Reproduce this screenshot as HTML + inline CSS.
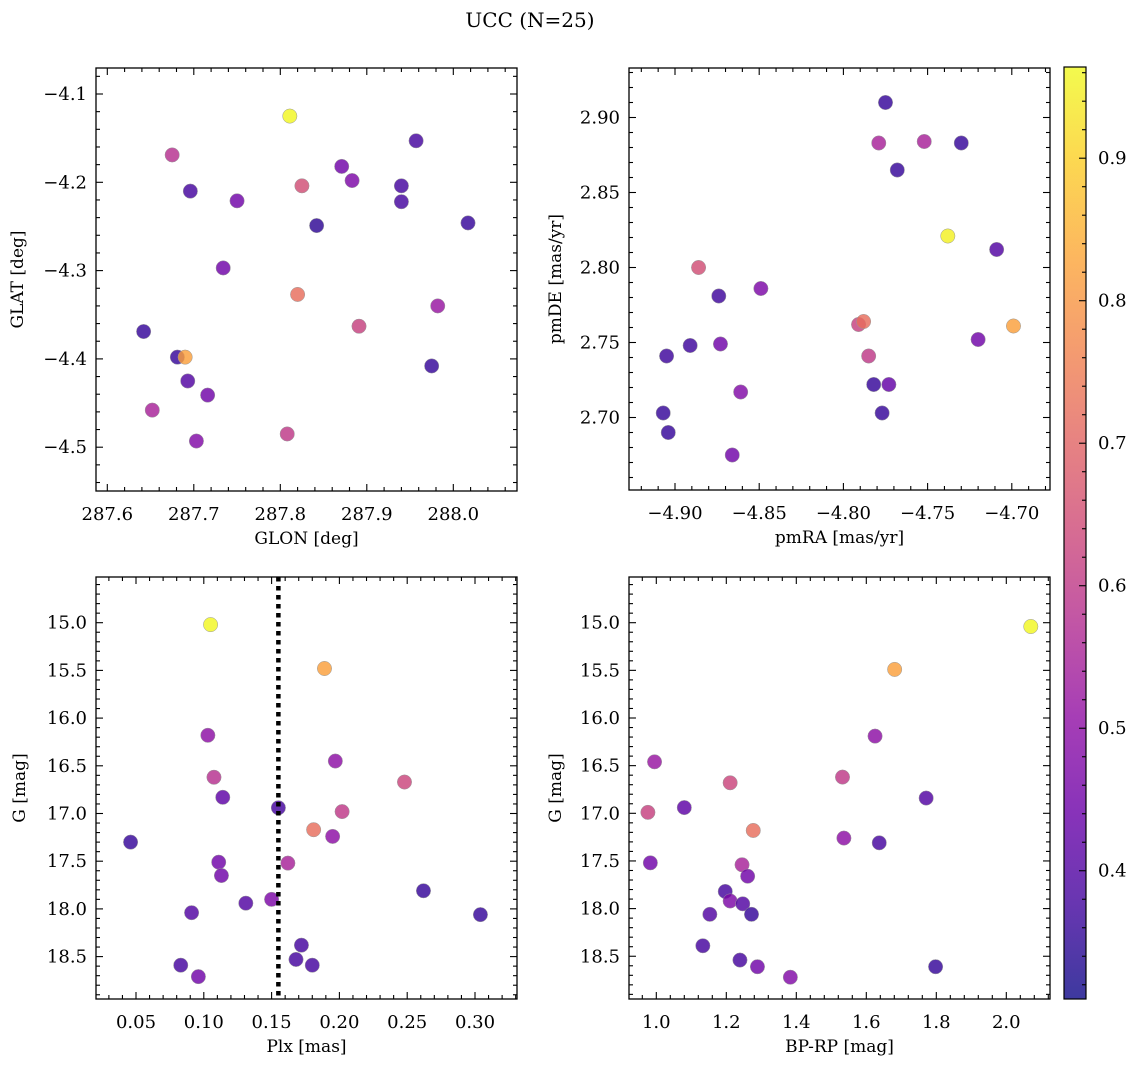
<!DOCTYPE html>
<html><head><meta charset="utf-8"><title>UCC (N=25)</title>
<style>
html,body{margin:0;padding:0;background:#fff;}
svg{display:block;font-family:"DejaVu Serif","Liberation Serif",serif;}
</style></head>
<body>
<svg id="fig" width="1136" height="1067" viewBox="0 0 1136 1067" xmlns="http://www.w3.org/2000/svg">
<defs>
<linearGradient id="plasma" x1="0" y1="1" x2="0" y2="0"></linearGradient>
</defs>
<text x="530" y="27" text-anchor="middle" font-size="20" fill="#000">UCC (N=25)</text>
</svg>
<script>
// ---- data (each panel: x values, y values, color values) ----
const glon = [287.811,287.675,287.696,287.750,287.825,287.871,287.883,287.842,287.957,287.940,287.940,288.017,287.734,287.820,287.891,287.982,287.642,287.681,287.690,287.693,287.716,287.975,287.652,287.703,287.808];
const glat = [-4.125,-4.169,-4.210,-4.221,-4.204,-4.182,-4.198,-4.249,-4.153,-4.204,-4.222,-4.246,-4.297,-4.327,-4.363,-4.340,-4.369,-4.398,-4.398,-4.425,-4.441,-4.408,-4.458,-4.493,-4.485];
const probP1 = [0.96,0.58,0.38,0.45,0.65,0.45,0.47,0.35,0.38,0.38,0.38,0.36,0.45,0.72,0.62,0.52,0.36,0.36,0.82,0.40,0.45,0.36,0.55,0.48,0.60];

const pmra = [-4.775,-4.779,-4.752,-4.730,-4.768,-4.738,-4.709,-4.886,-4.874,-4.849,-4.905,-4.891,-4.873,-4.791,-4.788,-4.785,-4.720,-4.699,-4.861,-4.782,-4.773,-4.907,-4.777,-4.904,-4.866];
const pmde = [2.910,2.883,2.884,2.883,2.865,2.821,2.812,2.800,2.781,2.786,2.741,2.748,2.749,2.762,2.764,2.741,2.752,2.761,2.717,2.722,2.722,2.703,2.703,2.690,2.675];
const probP2 = [0.36,0.55,0.55,0.36,0.36,0.95,0.40,0.65,0.37,0.47,0.37,0.37,0.45,0.62,0.72,0.60,0.45,0.82,0.48,0.36,0.43,0.36,0.36,0.36,0.45];

const plx = [0.105,0.189,0.103,0.1075,0.114,0.155,0.162,0.197,0.202,0.195,0.181,0.248,0.046,0.111,0.113,0.131,0.150,0.262,0.091,0.304,0.172,0.168,0.180,0.083,0.096];
const gmagP3 = [15.02,15.48,16.18,16.62,16.83,16.94,17.52,16.45,16.98,17.24,17.17,16.67,17.30,17.51,17.65,17.94,17.90,17.81,18.04,18.06,18.38,18.53,18.59,18.59,18.71];
const probP3 = [0.96,0.82,0.50,0.58,0.42,0.38,0.55,0.50,0.60,0.50,0.72,0.63,0.36,0.45,0.45,0.40,0.47,0.36,0.40,0.36,0.38,0.38,0.38,0.38,0.45];
const plxLine = 0.155;

const bprp = [2.070,1.681,1.625,0.995,1.532,1.211,1.771,1.080,0.976,1.277,1.536,1.637,0.983,1.245,1.261,1.197,1.211,1.247,1.153,1.272,1.133,1.239,1.289,1.383,1.798];
const gmagP4 = [15.04,15.49,16.19,16.46,16.62,16.68,16.84,16.94,16.99,17.18,17.26,17.31,17.52,17.54,17.66,17.82,17.92,17.95,18.06,18.06,18.39,18.54,18.61,18.72,18.61];
const probP4 = [0.96,0.82,0.50,0.52,0.60,0.63,0.40,0.42,0.62,0.72,0.50,0.38,0.45,0.55,0.45,0.38,0.47,0.40,0.40,0.36,0.38,0.38,0.45,0.48,0.36];

const ticksP1x = [287.6,287.7,287.8,287.9,288.0];
const ticksP1y = [-4.1,-4.2,-4.3,-4.4,-4.5];
const ticksP2x = [-4.90,-4.85,-4.80,-4.75,-4.70];
const ticksP2y = [2.70,2.75,2.80,2.85,2.90];
const ticksP3x = [0.05,0.10,0.15,0.20,0.25,0.30];
const ticksGy = [15.0,15.5,16.0,16.5,17.0,17.5,18.0,18.5];
const ticksP4x = [1.0,1.2,1.4,1.6,1.8,2.0];
const ticksCbar = [0.4,0.5,0.6,0.7,0.8,0.9];
const cbarMin = 0.31, cbarMax = 0.964;

// ---- colormap ----
const plasmaStops = ["#0d0887","#41049d","#6a00a8","#8f0da4","#b12a90","#cc4778","#e16462","#f2844b","#fca636","#fcce25","#f0f921"];
function hex2rgb(h){return [parseInt(h.slice(1,3),16),parseInt(h.slice(3,5),16),parseInt(h.slice(5,7),16)];}
function plasma(t){
  t=Math.max(0,Math.min(1,t));
  const p=t*10, i=Math.min(9,Math.floor(p)), f=p-i;
  const a=hex2rgb(plasmaStops[i]), b=hex2rgb(plasmaStops[i+1]);
  return "rgb("+a.map((v,k)=>Math.round(v+(b[k]-v)*f)).join(",")+")";
}
function cmap(v){return plasma((v-cbarMin)/(cbarMax-cbarMin));}

const NS="http://www.w3.org/2000/svg";
const svg=document.getElementById('fig');
function mk(tag,attrs,parent){const e=document.createElementNS(NS,tag);for(const k in attrs)e.setAttribute(k,attrs[k]);(parent||svg).appendChild(e);return e;}
function fmt(v,d){const s=Math.abs(v).toFixed(d);return (v<0?"\u2212":"")+s;}

const grad=document.getElementById('plasma');
for(let i=0;i<=20;i++){const s=document.createElementNS(NS,'stop');s.setAttribute('offset',(i/20));s.setAttribute('stop-color',plasma(i/20));s.setAttribute('stop-opacity','0.8');grad.appendChild(s);}

function panel(cfg){
  const g=mk('g',{});
  
  
  const {L,R,T,B}=cfg;
  const sx=v=>L+(v-cfg.x0)/(cfg.x1-cfg.x0)*(R-L);
  const sy=v=>T+(v-cfg.y0)/(cfg.y1-cfg.y0)*(B-T);
  const pg=mk('g',{},g);
  
  
  for(let i=0;i<cfg.xs.length;i++){
    const c=mk('circle',{cx:sx(cfg.xs[i]),cy:sy(cfg.ys[i]),r:7.2,fill:cmap(cfg.cs[i]),'fill-opacity':0.82,stroke:'#999','stroke-width':0.5},pg);
    
    
  }
  if(cfg.vline!==undefined){
    const l=mk('line',{x1:sx(cfg.vline),x2:sx(cfg.vline),y1:T,y2:B,stroke:'#000','stroke-width':4.5,'stroke-dasharray':'4.5,4.5'},g);
    
    
  }
  const fr=mk('rect',{x:L,y:T,width:R-L,height:B-T,fill:'none',stroke:'#000','stroke-width':1.3},g);
  
  
  const tk=mk('g',{stroke:'#000','stroke-width':1.1},g);
  const xlo=Math.min(cfg.x0,cfg.x1), xhi=Math.max(cfg.x0,cfg.x1);
  for(let k=Math.ceil(xlo/cfg.xmin-1e-6);k*cfg.xmin<=xhi+1e-9;k++){
    const v=k*cfg.xmin, X=sx(v);
    const major=cfg.xt.some(t=>Math.abs(t-v)<cfg.xmin/10);
    const len=major?7:4;
    mk('line',{x1:X,x2:X,y1:B,y2:B-len},tk);mk('line',{x1:X,x2:X,y1:T,y2:T+len},tk);
  }
  const ylo=Math.min(cfg.y0,cfg.y1), yhi=Math.max(cfg.y0,cfg.y1);
  for(let k=Math.ceil(ylo/cfg.ymin-1e-6);k*cfg.ymin<=yhi+1e-9;k++){
    const v=k*cfg.ymin, Y=sy(v);
    const major=cfg.yt.some(t=>Math.abs(t-v)<cfg.ymin/10);
    const len=major?7:4;
    mk('line',{x1:L,x2:L+len,y1:Y,y2:Y},tk);mk('line',{x1:R,x2:R-len,y1:Y,y2:Y},tk);
  }
  cfg.xt.forEach(v=>{
    const t=mk('text',{x:sx(v),y:B+29,'text-anchor':'middle','font-size':18,fill:'#000'},g);
    t.textContent=fmt(v,cfg.xd);
    
    
  });
  cfg.yt.forEach(v=>{
    const t=mk('text',{x:L-9,y:sy(v)+6,'text-anchor':'end','font-size':18,fill:'#000'},g);
    t.textContent=fmt(v,cfg.yd);
    
    
  });
  const xl=mk('text',{x:(L+R)/2,y:B+53,'text-anchor':'middle','font-size':17,fill:'#000'},g);
  xl.textContent=cfg.xlabel;
  
  
  const yl=mk('text',{x:0,y:0,'text-anchor':'middle','font-size':17,fill:'#000',transform:'translate('+(cfg.ylx)+','+((T+B)/2)+') rotate(-90)'},g);
  yl.textContent=cfg.ylabel;
  
  
}

panel({name:'glon-glat-panel',L:96,R:517,T:68,B:491,
  x0:287.6-11.3/865,x1:287.6+409.7/865,y0:-4.1+26/883,y1:-4.1-397/883,
  xs:glon,ys:glat,cs:probP1,xt:ticksP1x,yt:ticksP1y,xmin:0.02,ymin:0.02,xd:1,yd:1,
  xlabel:'GLON [deg]',ylabel:'GLAT [deg]',ylx:23});
panel({name:'pm-panel',L:629,R:1050,T:68,B:490,
  x0:-4.90-46/1684,x1:-4.90+375/1684,y0:2.90+49.5/1500,y1:2.90-372.5/1500,
  xs:pmra,ys:pmde,cs:probP2,xt:ticksP2x,yt:ticksP2y,xmin:0.01,ymin:0.01,xd:2,yd:2,
  xlabel:'pmRA [mas/yr]',ylabel:'pmDE [mas/yr]',ylx:561});
panel({name:'plx-g-panel',L:96,R:517,T:577,B:999,
  x0:0.05-40/1356,x1:0.05+381/1356,y0:15-45.7/95.4,y1:15+376.3/95.4,
  xs:plx,ys:gmagP3,cs:probP3,xt:ticksP3x,yt:ticksGy,xmin:0.01,ymin:0.1,xd:2,yd:1,vline:plxLine,
  xlabel:'Plx [mas]',ylabel:'G [mag]',ylx:25});
panel({name:'cmd-panel',L:629,R:1050,T:577,B:999,
  x0:1.0-27.3/350,x1:1.0+393.7/350,y0:15-45.7/95.3,y1:15+376.3/95.3,
  xs:bprp,ys:gmagP4,cs:probP4,xt:ticksP4x,yt:ticksGy,xmin:0.04,ymin:0.1,xd:1,yd:1,
  xlabel:'BP-RP [mag]',ylabel:'G [mag]',ylx:561});

(function(){
  const L=1064,R=1086,T=67,B=999;
  const g=mk('g',{});
  
  
  mk('rect',{x:L,y:T,width:R-L,height:B-T,fill:'url(#plasma)',stroke:'#000','stroke-width':1.2},g);
  const sy=v=>B-(v-cbarMin)/(cbarMax-cbarMin)*(B-T);
  const tk=mk('g',{stroke:'#000','stroke-width':1.1},g);
  for(let k=Math.ceil(cbarMin/0.02);k*0.02<=cbarMax;k++){
    const v=k*0.02, Y=sy(v);
    const major=ticksCbar.some(t=>Math.abs(t-v)<0.002);
    mk('line',{x1:R,x2:R-(major?7:4),y1:Y,y2:Y},tk);
  }
  ticksCbar.forEach(v=>{
    const t=mk('text',{x:R+12,y:sy(v)+6,'font-size':18,fill:'#000'},g);
    t.textContent=v.toFixed(1);
    
    
  });
})();
</script>
</body></html>
